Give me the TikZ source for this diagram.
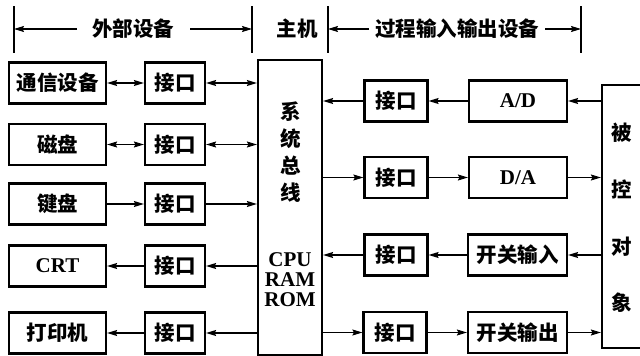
\documentclass[tikz,border=0pt]{standalone}
\usepackage{fontspec}
\setmainfont{Liberation Serif}
\newfontfamily\cjk{Noto Sans CJK SC}
\usetikzlibrary{arrows.meta}
\begin{document}
\begin{tikzpicture}[x=1pt,y=-1pt,
  box/.style={draw, line width=2.2pt, inner sep=0pt, minimum height=41pt},
  zh/.style={font=\fontsize{20.5}{22}\selectfont\cjk\bfseries},
  en/.style={font=\fontsize{21}{21}\selectfont\bfseries},
  tip/.tip={Stealth[length=10pt,width=6pt,inset=1.5pt]},
  arr/.style={-tip, line width=1.2pt},
  darr/.style={tip-tip, line width=1.2pt},
  bar/.style={line width=1.2pt}]
\useasboundingbox (0,0) rectangle (640,356);

% header
\draw[bar] (14,6) -- (14,53);
\draw[bar] (252,6) -- (252,53);
\draw[bar] (328,6) -- (328,53);
\draw[bar] (581,6) -- (581,53);
\coordinate (b1) at (14,29);
\coordinate (b2) at (252,29);
\coordinate (b3) at (328,29);
\coordinate (b4) at (581,29);
\node[zh] (h1) at (133,29) {外部设备};
\node[zh] (h2) at (297,29) {主机};
\node[zh] (h3) at (457,29) {过程输入输出设备};
\coordinate (a1) at (77,29);
\coordinate (a2) at (190,29);
\coordinate (a3) at (369,29);
\coordinate (a4) at (545,29);
\draw[arr] (a1) -- (b1);
\draw[arr] (a2) -- (b2);
\draw[arr] (a3) -- (b3);
\draw[arr] (a4) -- (b4);

% host
\node[draw, line width=2.2pt, minimum width=64pt, minimum height=295pt] (host) at (290,207.5) {};
\node[zh, align=center, font=\fontsize{20.5}{27}\selectfont\cjk\bfseries] (hostt) at (291,152) {系\\统\\总\\线};
\node[en, align=center, font=\fontsize{21}{20}\selectfont\bfseries] (hostc) at (290,280) {CPU\\RAM\\ROM};

% left side
\node[box, zh, minimum width=97pt] (d1) at (57.5,83) {通信设备};
\node[box, zh, minimum width=97pt] (d2) at (57.5,144.5) {磁盘};
\node[box, zh, minimum width=97pt] (d3) at (57.5,204) {键盘};
\node[box, en, minimum width=97pt] (d4) at (57.5,266) {CRT};
\node[box, zh, minimum width=97pt] (d5) at (57.5,333) {打印机};
\node[box, zh, minimum width=60pt] (i1) at (175,83) {接口};
\node[box, zh, minimum width=60pt] (i2) at (175,144.5) {接口};
\node[box, zh, minimum width=60pt] (i3) at (175,204) {接口};
\node[box, zh, minimum width=60pt] (i4) at (175,266) {接口};
\node[box, zh, minimum width=60pt] (i5) at (175,333) {接口};
\draw[darr] (d1) -- (i1);
\draw[darr] (i1) -- (i1 -| host.west);
\draw[darr] (d2) -- (i2);
\draw[darr] (i2) -- (i2 -| host.west);
\draw[arr] (d3) -- (i3);
\draw[arr] (i3) -- (i3 -| host.west);
\draw[arr] (i4 -| host.west) -- (i4);
\draw[arr] (i4) -- (d4);
\draw[arr] (i5 -| host.west) -- (i5);
\draw[arr] (i5) -- (d5);

% right side
\node[draw, line width=2.2pt, minimum width=46pt, minimum height=263pt] (obj) at (625,216.5) {};
\node[zh, align=center, font=\fontsize{20.5}{56.7}\selectfont\cjk\bfseries] (objt) at (622,218) {被\\控\\对\\象};
\node[box, zh, minimum width=63pt] (j1) at (396,101) {接口};
\node[box, zh, minimum width=63pt] (j2) at (396,177.5) {接口};
\node[box, zh, minimum width=63pt] (j3) at (396,255) {接口};
\node[box, zh, minimum width=63pt] (j4) at (395,332.5) {接口};
\node[box, en, minimum width=98pt] (e1) at (518,101) {A/D};
\node[box, en, minimum width=98pt] (e2) at (518,177.5) {D/A};
\node[box, zh, minimum width=99pt] (e3) at (517.5,255) {开关输入};
\node[box, zh, minimum width=99pt] (e4) at (517.5,332.5) {开关输出};
\draw[arr] (obj.west |- e1) -- (e1);
\draw[arr] (e1) -- (j1);
\draw[arr] (j1) -- (j1 -| host.east);
\draw[arr] (j2 -| host.east) -- (j2);
\draw[arr] (j2) -- (e2);
\draw[arr] (e2) -- (e2 -| obj.west);
\draw[arr] (obj.west |- e3) -- (e3);
\draw[arr] (e3) -- (j3);
\draw[arr] (j3) -- (j3 -| host.east);
\draw[arr] (j4 -| host.east) -- (j4);
\draw[arr] (j4) -- (e4);
\draw[arr] (e4) -- (e4 -| obj.west);
\end{tikzpicture}
\end{document}
